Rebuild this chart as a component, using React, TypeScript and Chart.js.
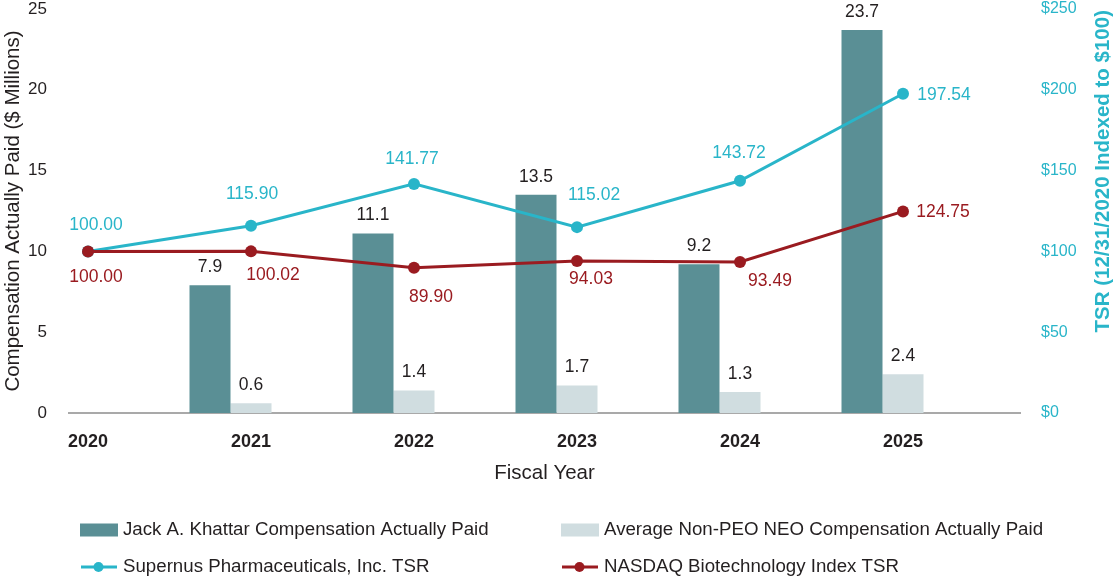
import React, { useEffect, useRef } from 'react';
import { Chart, registerables } from 'chart.js';

Chart.register(...registerables);

// ---------- data ----------
const years = [2020, 2021, 2022, 2023, 2024, 2025];
const ceoCap = [null, 7.9, 11.1, 13.5, 9.2, 23.7];
const neoCap = [null, 0.6, 1.4, 1.7, 1.3, 2.4];
const supernusTsr = [100.0, 115.9, 141.77, 115.02, 143.72, 197.54];
const nasdaqTsr = [100.0, 100.02, 89.9, 94.03, 93.49, 124.75];
const leftTicks = [0, 5, 10, 15, 20, 25];
const rightTicks = [0, 50, 100, 150, 200, 250];
const seriesNames = [
  'Jack A. Khattar Compensation Actually Paid',
  'Average Non-PEO NEO Compensation Actually Paid',
  'Supernus Pharmaceuticals, Inc. TSR',
  'NASDAQ Biotechnology Index TSR',
];
const leftTitle = 'Compensation Actually Paid ($ Millions)';
const rightTitle = 'TSR (12/31/2020 Indexed to $100)';
const xTitle = 'Fiscal Year';

// ---------- style ----------
const FONT = '"Liberation Sans", Arial, Helvetica, sans-serif';
const TEXT = '#231f20';
const DARK = '#5a8f95';
const LIGHT = '#d0dde0';
const CYAN = '#29b5c9';
const RED = '#9a1b20';
const AXIS = '#a9a9a9';

// label offsets (dx, dy) relative to each point, in px
const supernusLabelOffset = [[8, -26], [1, -32], [-2, -25], [17, -32], [-1, -28], [41, 1]];
const nasdaqLabelOffset = [[8, 26], [22, 24], [17, 29], [14, 18], [30, 19], [40, 1]];

const labelPlugin = {
  id: 'valueLabels',
  afterDatasetsDraw(chart: any) {
    const ctx = chart.ctx;
    ctx.save();
    ctx.font = `17.5px ${FONT}`;
    ctx.textAlign = 'center';
    ctx.textBaseline = 'middle';
    chart.data.datasets.forEach((ds: any, di: number) => {
      const meta = chart.getDatasetMeta(di);
      if (!ds.labelKind) return;
      meta.data.forEach((el: any, i: number) => {
        const v = ds.data[i].y;
        if (v === null || v === undefined) return;
        if (ds.labelKind === 'bar') {
          ctx.fillStyle = TEXT;
          ctx.fillText(v.toFixed(1), el.x, el.y - 18);
        } else {
          const off = ds.labelOffset[i];
          ctx.fillStyle = ds.borderColor;
          ctx.fillText(v.toFixed(2), el.x + off[0], el.y + off[1]);
        }
      });
    });
    ctx.restore();
  },
};

const extrasPlugin = {
  id: 'extras',
  afterDraw(chart: any) {
    const ctx = chart.ctx;
    const ds = chart.data.datasets;
    // right axis title (reads bottom to top, aligned at top)
    ctx.save();
    ctx.font = `bold 20.5px ${FONT}`;
    ctx.fillStyle = CYAN;
    ctx.translate(1103, chart.chartArea.top + 1);
    ctx.rotate(-Math.PI / 2);
    ctx.textAlign = 'right';
    ctx.textBaseline = 'middle';
    ctx.fillText(rightTitle, 0, 0);
    ctx.restore();

    // legend
    ctx.save();
    ctx.font = `18.7px ${FONT}`;
    ctx.textBaseline = 'middle';
    ctx.textAlign = 'left';
    const rows = [530, 567];
    const cols = [80, 561];
    const items = [
      { d: ds.find((d: any) => d.label === seriesNames[0]), r: 0, c: 0 },
      { d: ds.find((d: any) => d.label === seriesNames[1]), r: 0, c: 1 },
      { d: ds.find((d: any) => d.label === seriesNames[2]), r: 1, c: 0 },
      { d: ds.find((d: any) => d.label === seriesNames[3]), r: 1, c: 1 },
    ];
    items.forEach(({ d, r, c }) => {
      const x = cols[c];
      const y = rows[r];
      if (d.type === 'bar') {
        ctx.fillStyle = d.backgroundColor;
        ctx.fillRect(x, y - 6.5, 38, 13);
      } else {
        ctx.strokeStyle = d.borderColor;
        ctx.lineWidth = 3;
        ctx.beginPath();
        ctx.moveTo(x + 1, y);
        ctx.lineTo(x + 37, y);
        ctx.stroke();
        ctx.fillStyle = d.borderColor;
        ctx.beginPath();
        ctx.arc(x + 18.5, y, 5, 0, Math.PI * 2);
        ctx.fill();
      }
      ctx.fillStyle = TEXT;
      ctx.fillText(d.label, x + 43, y);
    });
    ctx.restore();
  },
};

const PX_PER_YEAR = 163;
const xMin = years[0] - 19 / PX_PER_YEAR;
const xMax = years[years.length - 1] + 117 / PX_PER_YEAR;

const noVPadding = (s: any) => {
  s.paddingTop = 0;
  s.paddingBottom = 0;
};

export default function App() {
  const ref = useRef<HTMLCanvasElement>(null);
  useEffect(() => {
    document.body.style.margin = '0';
    const chart = new Chart(ref.current as HTMLCanvasElement, {
      type: 'bar',
      data: {
        datasets: [
          {
            type: 'line',
            label: seriesNames[3],
            data: years.map((x, i) => ({ x, y: nasdaqTsr[i] })),
            yAxisID: 'y1',
            borderColor: RED,
            backgroundColor: RED,
            borderWidth: 3,
            pointRadius: 6,
            pointBackgroundColor: RED,
            pointBorderWidth: 0,
            tension: 0,
            order: 0,
            labelKind: 'line',
            labelOffset: nasdaqLabelOffset,
          } as any,
          {
            type: 'line',
            label: seriesNames[2],
            data: years.map((x, i) => ({ x, y: supernusTsr[i] })),
            yAxisID: 'y1',
            borderColor: CYAN,
            backgroundColor: CYAN,
            borderWidth: 3,
            pointRadius: 6,
            pointBackgroundColor: CYAN,
            pointBorderWidth: 0,
            tension: 0,
            order: 1,
            labelKind: 'line',
            labelOffset: supernusLabelOffset,
          } as any,
          {
            type: 'bar',
            label: seriesNames[0],
            data: years.map((x, i) => ({ x, y: ceoCap[i] })),
            yAxisID: 'y',
            backgroundColor: DARK,
            borderWidth: 0,
            order: 2,
            labelKind: 'bar',
          } as any,
          {
            type: 'bar',
            label: seriesNames[1],
            data: years.map((x, i) => ({ x, y: neoCap[i] })),
            yAxisID: 'y',
            backgroundColor: LIGHT,
            borderWidth: 0,
            order: 3,
            labelKind: 'bar',
          } as any,
          {
            type: 'bar',
            label: '',
            data: years.map((x) => ({ x, y: null })),
            yAxisID: 'y',
            backgroundColor: 'rgba(0,0,0,0)',
            borderWidth: 0,
            order: 4,
          } as any,
        ],
      },
      options: {
        animation: false,
        responsive: false,
        events: [],
        layout: { autoPadding: false, padding: { top: 9, left: 0, right: 0, bottom: 0 } },
        datasets: {
          bar: { categoryPercentage: 123 / 163, barPercentage: 1 },
        },
        plugins: {
          legend: { display: false },
          tooltip: { enabled: false },
        },
        scales: {
          x: {
            type: 'linear',
            position: 'bottom',
            offset: false,
            min: xMin,
            max: xMax,
            grid: { display: false, drawTicks: false, offset: false },
            border: { display: true, color: AXIS, width: 2 },
            afterBuildTicks: (s: any) => {
              s.ticks = years.map((v) => ({ value: v }));
            },
            afterFit: (s: any) => {
              s.height = 166;
            },
            ticks: {
              padding: 18,
              color: TEXT,
              font: { family: FONT, size: 18, weight: 'bold' },
              callback: (v: any) => String(v),
            },
            title: {
              display: true,
              text: xTitle,
              color: TEXT,
              font: { family: FONT, size: 20.5 },
              padding: { top: 0, bottom: 93 },
            },
          },
          y: {
            type: 'linear',
            position: 'left',
            min: 0,
            max: 25,
            grid: { display: false, drawTicks: false },
            border: { display: false },
            afterBuildTicks: (s: any) => {
              s.ticks = leftTicks.map((v) => ({ value: v }));
            },
            afterFit: (s: any) => {
              s.width = 69;
              noVPadding(s);
            },
            ticks: {
              padding: 22,
              color: TEXT,
              font: { family: FONT, size: 17 },
            },
            title: {
              display: true,
              text: leftTitle,
              color: TEXT,
              font: { family: FONT, size: 20.5 },
              padding: { top: 1, bottom: 0 },
            },
          },
          y1: {
            type: 'linear',
            position: 'right',
            min: 0,
            max: 250,
            grid: { display: false, drawTicks: false },
            border: { display: false },
            afterBuildTicks: (s: any) => {
              s.ticks = rightTicks.map((v) => ({ value: v }));
            },
            afterFit: (s: any) => {
              s.width = 98;
              noVPadding(s);
            },
            ticks: {
              padding: 21,
              color: CYAN,
              font: { family: FONT, size: 16 },
              callback: (v: any) => '$' + v,
            },
          },
        },
      } as any,
      plugins: [labelPlugin, extrasPlugin],
    });
    return () => chart.destroy();
  }, []);
  return (
    <div style={{ width: 1118, height: 579, position: 'relative' }}>
      <canvas ref={ref} width={1118} height={579} style={{ display: 'block' }} />
    </div>
  );
}
